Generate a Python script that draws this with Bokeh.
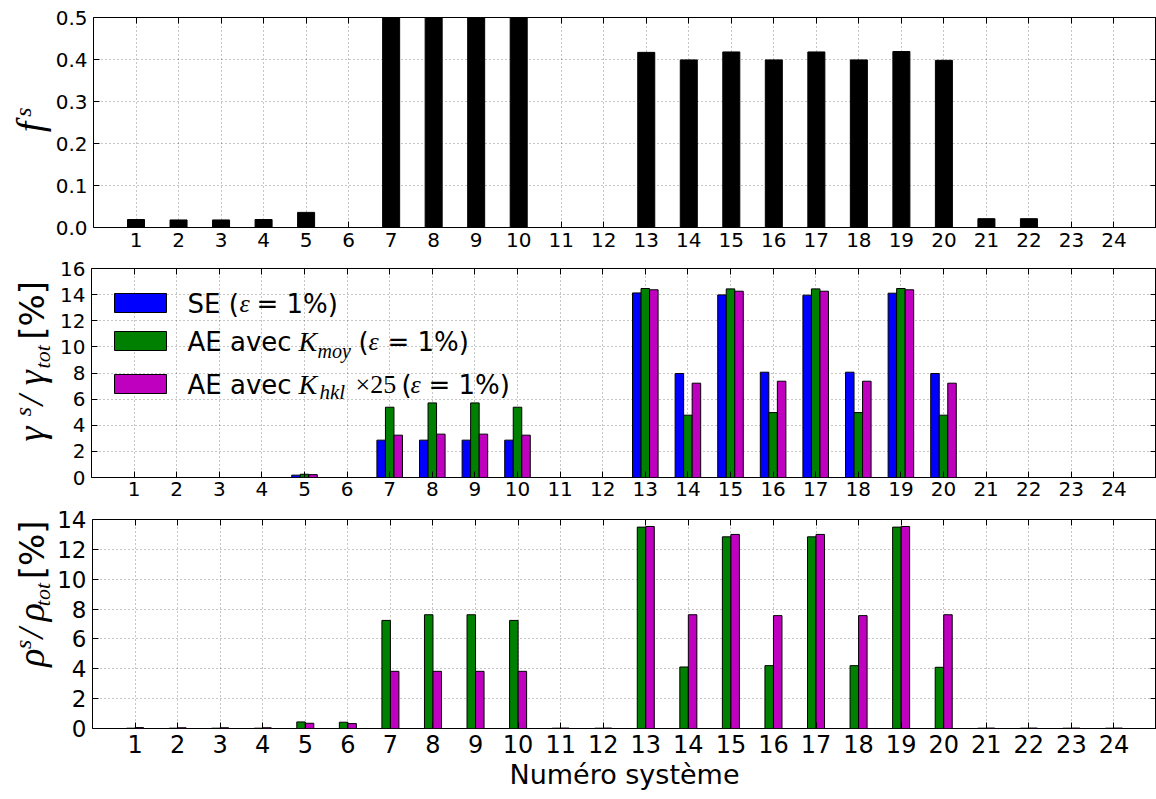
import numpy as np
from bokeh.plotting import figure
from bokeh.layouts import column, row
from bokeh.models import (Range1d, FixedTicker, LinearAxis, Label, BoxAnnotation,
                          PrintfTickFormatter, ColumnDataSource)
from bokeh.transform import dodge
from bokeh.embed import file_html
from bokeh.resources import INLINE

# ---------------- data ----------------
systems = list(range(1, 25))
f_s = [0.019, 0.018, 0.018, 0.019, 0.036, 0.0, 0.5, 0.5, 0.5, 0.5, 0.0, 0.0,
       0.417, 0.399, 0.418, 0.399, 0.418, 0.399, 0.419, 0.398, 0.021, 0.021, 0.0, 0.0]
gamma_SE = [0, 0, 0, 0, 0.18, 0, 2.86, 2.86, 2.86, 2.86, 0, 0,
            14.13, 7.96, 13.98, 8.06, 13.96, 8.06, 14.11, 7.96, 0, 0, 0, 0]
gamma_AE_moy = [0, 0, 0, 0, 0.25, 0, 5.38, 5.71, 5.71, 5.38, 0, 0,
                14.47, 4.77, 14.44, 4.97, 14.44, 4.97, 14.47, 4.77, 0, 0, 0, 0]
gamma_AE_hkl = [0, 0, 0, 0, 0.22, 0, 3.24, 3.32, 3.32, 3.24, 0, 0,
                14.37, 7.22, 14.26, 7.37, 14.26, 7.37, 14.37, 7.22, 0, 0, 0, 0]
rho_AE_moy = [0.02, 0.02, 0.02, 0.02, 0.44, 0.42, 7.24, 7.62, 7.62, 7.24, 0.02, 0.02,
              13.49, 4.12, 12.84, 4.21, 12.84, 4.21, 13.49, 4.10, 0.02, 0.02, 0.02, 0.02]
rho_AE_hkl = [0.06, 0.05, 0.05, 0.05, 0.35, 0.33, 3.83, 3.83, 3.83, 3.83, 0.03, 0.03,
              13.53, 7.62, 13.0, 7.56, 13.0, 7.56, 13.53, 7.62, 0.03, 0.03, 0.03, 0.03]
yticks_f = [0.0, 0.1, 0.2, 0.3, 0.4, 0.5]
yticks_g = [0, 2, 4, 6, 8, 10, 12, 14, 16]
yticks_r = [0, 2, 4, 6, 8, 10, 12, 14]

BLUE, GREEN, MAGENTA = "#0000ff", "#008000", "#bf00bf"
SANS = "DejaVu Sans"
SERIF = "Liberation Serif"
# half of (ascent - descent): distance from baseline to the middle of the text box
MID = {SANS: 0.346, SERIF: 0.3375}

FL, FR = 91.0, 1156.0   # frame left/right (page px)
# panel: (figure top, frame top, frame bottom, ymax, figure height, label-strip width)
P1 = (0.0, 17.0, 227.0, 0.5, 256, 52)
P2 = (256.0, 268.0, 477.0, 16.0, 249, 56)
P3 = (505.0, 519.0, 728.0, 14.0, 294, 54)


def X(px):
    return (px - FL) / (FR - FL) * 25.0


def Y(panel, py):
    top, bot, ymax = panel[1], panel[2], panel[3]
    return (bot - py) / (bot - top) * ymax


def make_fig(panel, yticks, fsize, bbot, xstand):
    ftop, top, bot, ymax, h, lw = panel
    p = figure(width=1156 - lw, height=h, x_range=Range1d(0, 25), y_range=Range1d(0, ymax),
               output_backend="svg", toolbar_location=None,
               min_border_left=int(FL - lw), min_border_right=0,
               min_border_top=int(top - ftop), min_border_bottom=bbot)
    p.outline_line_color = "black"
    p.outline_line_alpha = 1.0
    p.outline_line_width = 1
    xa, ya = p.below[0], p.left[0]
    xa.ticker = FixedTicker(ticks=systems)
    ya.ticker = FixedTicker(ticks=yticks)
    for ax in (xa, ya):
        ax.major_tick_in = 6
        ax.major_tick_out = 0
        ax.minor_tick_in = 0
        ax.minor_tick_out = 0
        ax.axis_line_color = None
        ax.major_tick_line_color = "black"
        ax.major_label_text_font = SANS
        ax.major_label_text_font_size = f"{fsize}px"
        ax.major_label_text_color = "black"
    xa.major_label_standoff = xstand
    ya.major_label_standoff = 6
    for place, tk in (("above", systems), ("right", yticks)):
        extra = LinearAxis(ticker=FixedTicker(ticks=tk), major_tick_in=6, major_tick_out=0,
                           minor_tick_in=0, minor_tick_out=0, axis_line_color=None,
                           major_label_text_font_size="1px", major_label_text_color=None,
                           major_label_standoff=0, major_tick_line_color="black")
        p.add_layout(extra, place)
    for g in (p.xgrid[0], p.ygrid[0]):
        g.grid_line_color = "#000000"
        g.grid_line_alpha = 0.45
        g.grid_line_width = 1
        g.grid_line_dash = "1 3"
    return p


def label_fig(panel):
    h, lw = panel[4], panel[5]
    f = figure(width=lw, height=h, x_range=Range1d(0, lw), y_range=Range1d(h, 0),
               output_backend="svg", toolbar_location=None,
               x_axis_type=None, y_axis_type=None, min_border=0)
    f.outline_line_color = None
    f.grid.visible = False
    return f


def vlab(f, panel, bx, py, text, size, font=SERIF, style="italic"):
    # bx: x of the text baseline (page px); py: start of the text (page px)
    f.add_layout(Label(x=bx - MID[font] * size, y=py - panel[0], text=text, text_font=font,
                       text_font_size=f"{size}px", text_font_style=style,
                       text_color="black", angle=np.pi / 2, text_align="left",
                       text_baseline="middle"))


def lab(p, panel, px, by, text, size, font=SANS, style="normal"):
    # px: start of the text; by: baseline (page px)
    p.add_layout(Label(x=X(px), y=Y(panel, by - MID[font] * size), text=text, text_font=font,
                       text_font_size=f"{size}px", text_font_style=style,
                       text_color="black", text_align="left",
                       text_baseline="middle"))


# ---------------- top panel ----------------
p1 = make_fig(P1, yticks_f, 20, 29, 5)
p1.left[0].formatter = PrintfTickFormatter(format="%.1f")
p1.vbar(x=systems, top=f_s, width=0.4, fill_color="black", line_color="black", line_width=1)
l1 = label_fig(P1)
vlab(l1, P1, 42, 140, "f", 38)
vlab(l1, P1, 31, 121, "s", 24)

# ---------------- middle panel ----------------
p2 = make_fig(P2, yticks_g, 20, 28, 4)
src2 = ColumnDataSource(dict(x=systems, se=gamma_SE, moy=gamma_AE_moy, hkl=gamma_AE_hkl))
p2.vbar(x=dodge("x", -0.2), top="se", width=0.2, source=src2,
        fill_color=BLUE, line_color="black", line_width=1)
p2.vbar(x=dodge("x", 0.0), top="moy", width=0.2, source=src2,
        fill_color=GREEN, line_color="black", line_width=1)
p2.vbar(x=dodge("x", 0.2), top="hkl", width=0.2, source=src2,
        fill_color=MAGENTA, line_color="black", line_width=1)
l2 = label_fig(P2)
vlab(l2, P2, 43, 462, "γ", 38)
vlab(l2, P2, 31, 432, "s", 24)
vlab(l2, P2, 43, 419, "/", 36)
vlab(l2, P2, 43, 395, "γ", 38)
vlab(l2, P2, 49, 375, "tot", 22)
vlab(l2, P2, 43, 341, "[%]", 34, SANS, "normal")

# legend (manual, mixed fonts)
for (y0, y1, col) in [(293, 312, BLUE), (331, 350, GREEN), (374, 393, MAGENTA)]:
    p2.add_layout(BoxAnnotation(left=X(114), right=X(166), top=Y(P2, y0), bottom=Y(P2, y1),
                                fill_color=col, fill_alpha=1.0, line_color="black",
                                line_width=1, line_alpha=1.0))
LF = 26
lab(p2, P2, 187, 312, "SE (", LF)
lab(p2, P2, 239, 312, "ε", 26, SERIF, "italic")
lab(p2, P2, 256, 312, "= 1%)", LF)

lab(p2, P2, 187, 350, "AE avec", LF)
lab(p2, P2, 298, 350, "K", 28, SERIF, "italic")
lab(p2, P2, 317, 357, "moy", 20, SERIF, "italic")
lab(p2, P2, 358, 350, "(", LF)
lab(p2, P2, 368, 350, "ε", 26, SERIF, "italic")
lab(p2, P2, 387, 350, "= 1%)", LF)

lab(p2, P2, 187, 393, "AE avec", LF)
lab(p2, P2, 298, 393, "K", 28, SERIF, "italic")
lab(p2, P2, 319, 399, "hkl", 21, SERIF, "italic")
lab(p2, P2, 355, 393, "×25", 26, SERIF, "normal")
lab(p2, P2, 401, 393, "(", LF)
lab(p2, P2, 410, 393, "ε", 26, SERIF, "italic")
lab(p2, P2, 428, 393, "= 1%)", LF)

# ---------------- bottom panel ----------------
p3 = make_fig(P3, yticks_r, 23, 71, 6)
src3 = ColumnDataSource(dict(x=systems, moy=rho_AE_moy, hkl=rho_AE_hkl))
p3.vbar(x=dodge("x", -0.1), top="moy", width=0.2, source=src3,
        fill_color=GREEN, line_color="black", line_width=1)
p3.vbar(x=dodge("x", 0.1), top="hkl", width=0.2, source=src3,
        fill_color=MAGENTA, line_color="black", line_width=1)
xb = p3.below[0]
xb.major_label_text_font_size = "24px"
xb.axis_label = "Numéro système"
xb.axis_label_text_font = SANS
xb.axis_label_text_font_size = "27px"
xb.axis_label_text_font_style = "normal"
xb.axis_label_text_color = "black"
xb.axis_label_standoff = 3
l3 = label_fig(P3)
vlab(l3, P3, 43, 712, "ρ", 38)
vlab(l3, P3, 31, 687, "s", 24)
vlab(l3, P3, 43, 672, "/", 36)
vlab(l3, P3, 43, 648, "ρ", 38)
vlab(l3, P3, 49, 627, "tot", 22)
vlab(l3, P3, 43, 589, "[%]", 34, SANS, "normal")

layout = column(row(l1, p1, spacing=0), row(l2, p2, spacing=0), row(l3, p3, spacing=0),
                spacing=0)
open("out.html", "w").write(file_html(layout, INLINE))
